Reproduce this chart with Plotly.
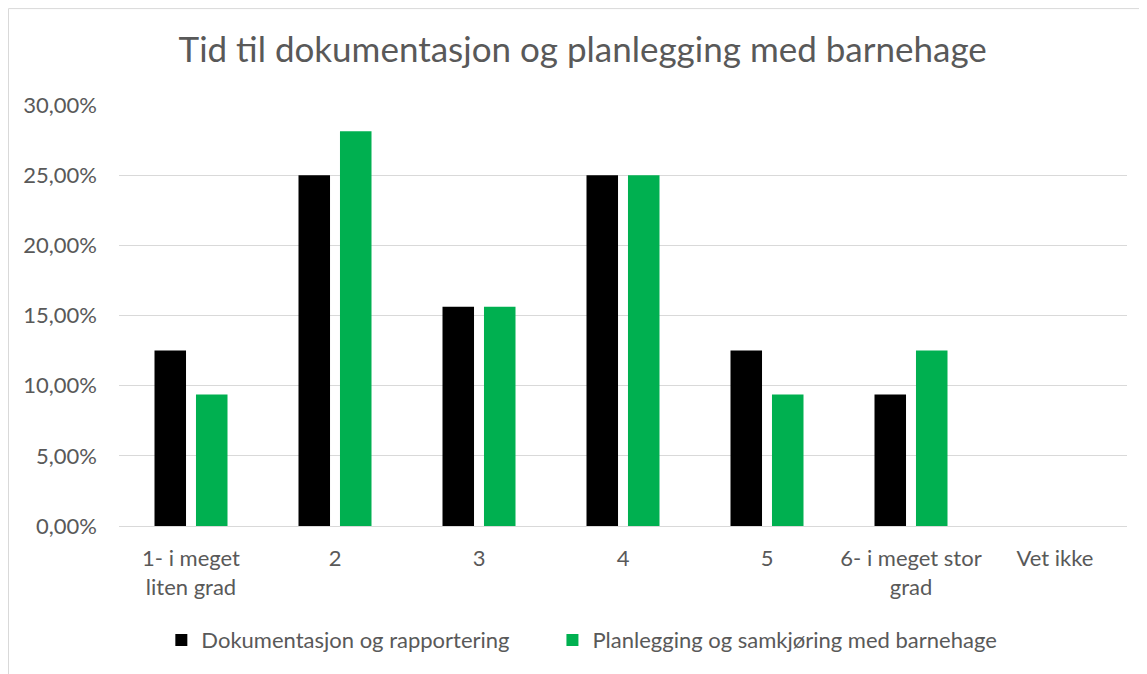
import plotly.graph_objects as go

categories = ["1- i meget<br>liten grad", "2", "3", "4", "5", "6- i meget stor<br>grad", "Vet ikke"]
dokumentasjon = [0.125, 0.25, 0.15625, 0.25, 0.125, 0.09375, 0.0]
planlegging = [0.09375, 0.28125, 0.15625, 0.25, 0.09375, 0.125, 0.0]
y_ticks = [0, 0.05, 0.10, 0.15, 0.20, 0.25, 0.30]
y_labels = ["0,00%", "5,00%", "10,00%", "15,00%", "20,00%", "25,00%", "30,00%"]

font = "Lato, 'Open Sans', sans-serif"
grey = "#595959"

fig = go.Figure()
fig.add_trace(go.Bar(x=categories, y=dokumentasjon, name="Dokumentasjon og rapportering",
                     marker=dict(color="#000000", line=dict(width=0)), legend="legend"))
fig.add_trace(go.Bar(x=categories, y=planlegging, name="Planlegging og samkjøring med barnehage",
                     marker=dict(color="#00B050", line=dict(width=0)), legend="legend2"))

# page has an 8px body margin, so the figure is 8px smaller and shifted
legend_style = dict(orientation="h", xanchor="left", y=-0.271, yanchor="middle",
                    font=dict(size=22, color=grey), bgcolor="rgba(0,0,0,0)")
fig.update_layout(
    width=1139, height=666,
    margin=dict(l=111, r=20, t=97, b=148),
    paper_bgcolor="white", plot_bgcolor="white",
    font=dict(family=font, color=grey, size=22),
    title=dict(text="Tid til dokumentasjon og planlegging med barnehage",
               x=0.46, xref="paper", xanchor="center", y=0.937, yanchor="middle",
               font=dict(size=35, color=grey, family=font)),
    barmode="group", bargap=0.424, bargroupgap=0.24,
    showlegend=True,
    legend=dict(x=0.042, **legend_style),
    legend2=dict(x=0.430, **legend_style),
    shapes=[dict(type="rect", xref="paper", yref="paper", x0=-0.1096, x1=1.2, y0=-0.6, y1=1.229,
                 line=dict(color="#d9d9d9", width=1), layer="below")],
)
fig.update_yaxes(range=[0, 0.30], tickvals=y_ticks, ticktext=y_labels,
                 showgrid=True, gridcolor="#d9d9d9", gridwidth=1, zeroline=False,
                 showline=False, ticks="", ticklabelstandoff=21,
                 tickfont=dict(size=22, color=grey))
fig.update_xaxes(showline=True, linecolor="#d9d9d9", linewidth=1, ticks="",
                 tickfont=dict(size=22, color=grey), ticklabelstandoff=13)

fig.write_html("out.html")
